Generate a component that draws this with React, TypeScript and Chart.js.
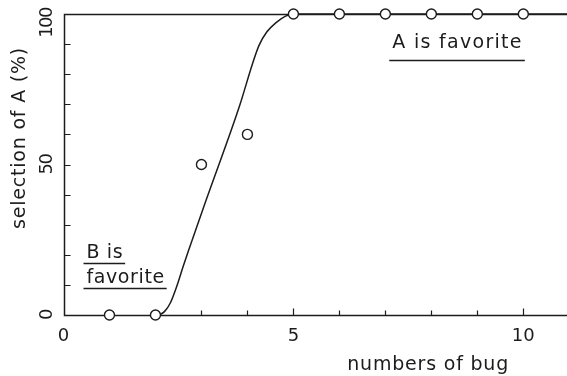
import React, { useEffect, useRef } from "react";
import { Chart, registerables } from "chart.js";

Chart.register(...registerables);

// Observed selection rates of A for each number of bugs
const bugCounts = [1, 2, 3, 4, 5, 6, 7, 8, 9, 10];
const selectionA = [0, 0, 50, 60, 100, 100, 100, 100, 100, 100];

// Hand-fitted response curve
const curveX = [2.08, 2.2, 2.32, 2.46, 2.6, 2.71, 3.11, 3.84, 4.1, 4.25, 4.42, 4.63, 4.82, 5.0, 10.95];
const curveY = [0, 1.2, 3.9, 9.4, 16, 21, 38.5, 70, 83, 89.5, 94, 97.2, 99.2, 100, 100];

// Axis labelling
const xTickLabels = [0, 5, 10];
const yTickLabels = [0, 50, 100];
const xMinorStep = 1;
const yMinorStep = 10;
const xMax = 10.95;

const xTitle = "numbers of bug";
const yTitle = "selection of A (%)";

// Region notes, anchored in data coordinates
const notes = [
  { lines: ["A is favorite"], x: 7.15, y: 88.7, rule: 12 },
  { lines: ["B is", "favorite"], x: 0.5, y: 18.9, rule: 5 },
];

const INK = "#1c1c1c";
const FONT = '"DejaVu Sans", sans-serif';

const framePlugin = {
  id: "frame",
  beforeDatasetsDraw(chart: any) {
    const { ctx, chartArea, scales } = chart;
    const xs = scales.x;
    const ys = scales.y;
    const left = Math.round(chartArea.left) + 0.5;
    const bottom = Math.round(chartArea.bottom) + 0.5;
    const top = Math.round(chartArea.top) + 0.5;
    ctx.save();
    ctx.strokeStyle = INK;
    ctx.lineWidth = 1.5;
    ctx.beginPath();
    ctx.moveTo(chartArea.right + 2, top);
    ctx.lineTo(left, top);
    ctx.lineTo(left, bottom);
    ctx.lineTo(chartArea.right + 2, bottom);
    ctx.stroke();

    ctx.lineWidth = 1.2;
    ctx.beginPath();
    for (let v = xMinorStep; v <= xMax; v += xMinorStep) {
      const px = Math.round(xs.getPixelForValue(v)) + 0.5;
      const len = v % 5 === 0 ? 7 : 5;
      ctx.moveTo(px, bottom);
      ctx.lineTo(px, bottom - len);
    }
    for (let v = yMinorStep; v < 100; v += yMinorStep) {
      const py = Math.round(ys.getPixelForValue(v)) + 0.5;
      ctx.moveTo(left, py);
      ctx.lineTo(left + 6, py);
    }
    ctx.stroke();
    ctx.restore();
  },
  afterDraw(chart: any) {
    const { ctx, chartArea, scales } = chart;
    const xs = scales.x;
    const ys = scales.y;
    ctx.save();
    ctx.fillStyle = INK;
    ctx.strokeStyle = INK;

    // x tick labels
    ctx.font = `18px ${FONT}`;
    ctx.textAlign = "center";
    ctx.textBaseline = "middle";
    for (const v of xTickLabels) {
      ctx.fillText(String(v), xs.getPixelForValue(v), chartArea.bottom + 21);
    }

    // y tick labels, rotated
    (ctx as any).letterSpacing = "-1.5px";
    for (const v of yTickLabels) {
      const text = String(v);
      const w = ctx.measureText(text).width;
      let cy = ys.getPixelForValue(v);
      cy = Math.max(cy, 8 + w / 2);
      ctx.save();
      ctx.translate(chartArea.left - 16, cy);
      ctx.rotate(-Math.PI / 2);
      ctx.fillText(text, 0, 0);
      ctx.restore();
    }

    // axis titles
    ctx.font = `19px ${FONT}`;
    (ctx as any).letterSpacing = "0.8px";
    ctx.textBaseline = "alphabetic";
    ctx.fillText(xTitle, xs.getPixelForValue(7.93), chartArea.bottom + 55);

    (ctx as any).letterSpacing = "0.8px";
    ctx.save();
    ctx.translate(chartArea.left - 43, chartArea.top + 124);
    ctx.rotate(-Math.PI / 2);
    ctx.textBaseline = "middle";
    ctx.fillText(yTitle, 0, 0);
    ctx.restore();

    // underlined region notes
    ctx.font = `19px ${FONT}`;
    ctx.textAlign = "left";
    ctx.textBaseline = "alphabetic";
    ctx.lineWidth = 1.5;
    for (const note of notes) {
      const x0 = xs.getPixelForValue(note.x);
      let y0 = ys.getPixelForValue(note.y);
      for (const line of note.lines) {
        (ctx as any).letterSpacing = note.rule > 8 ? "1.3px" : "0.6px";
        ctx.fillText(line, x0, y0);
        const w = ctx.measureText(line).width;
        ctx.beginPath();
        ctx.moveTo(x0 - 3, y0 + note.rule + 0.5);
        ctx.lineTo(x0 + w + 2, y0 + note.rule + 0.5);
        ctx.stroke();
        y0 += 25;
      }
    }
    ctx.restore();
  },
};

export default function App() {
  const canvasRef = useRef<HTMLCanvasElement | null>(null);

  useEffect(() => {
    const canvas = canvasRef.current;
    if (!canvas) return;
    const chart = new Chart(canvas, {
      type: "scatter",
      data: {
        datasets: [
          {
            type: "scatter",
            label: "observed",
            data: bugCounts.map((x, i) => ({ x, y: selectionA[i] })),
            pointRadius: 5,
            pointBorderWidth: 1.4,
            pointBackgroundColor: "#ffffff",
            pointBorderColor: INK,
            pointStyle: "circle",
            clip: false,
            order: 0,
          } as any,
          {
            type: "line",
            label: "fit",
            data: curveX.map((x, i) => ({ x, y: curveY[i] })),
            borderColor: INK,
            borderWidth: 1.5,
            pointRadius: 0,
            cubicInterpolationMode: "monotone",
            fill: false,
            clip: false,
            order: 1,
          } as any,
        ],
      },
      options: {
        responsive: false,
        animation: false,
        devicePixelRatio: 1,
        layout: { autoPadding: false, padding: { left: 63.5, right: 0, top: 14, bottom: 61 } },
        scales: {
          x: { type: "linear", min: 0, max: xMax, display: false },
          y: { type: "linear", min: 0, max: 100, display: false },
        },
        plugins: {
          legend: { display: false },
          tooltip: { enabled: false },
        },
      },
      plugins: [framePlugin],
    });
    return () => chart.destroy();
  }, []);

  return (
    <div
      style={{
        position: "fixed",
        left: 0,
        top: 0,
        width: 567,
        height: 376,
        background: "#ffffff",
        overflow: "hidden",
      }}
    >
      <canvas ref={canvasRef} width={567} height={376} />
    </div>
  );
}
